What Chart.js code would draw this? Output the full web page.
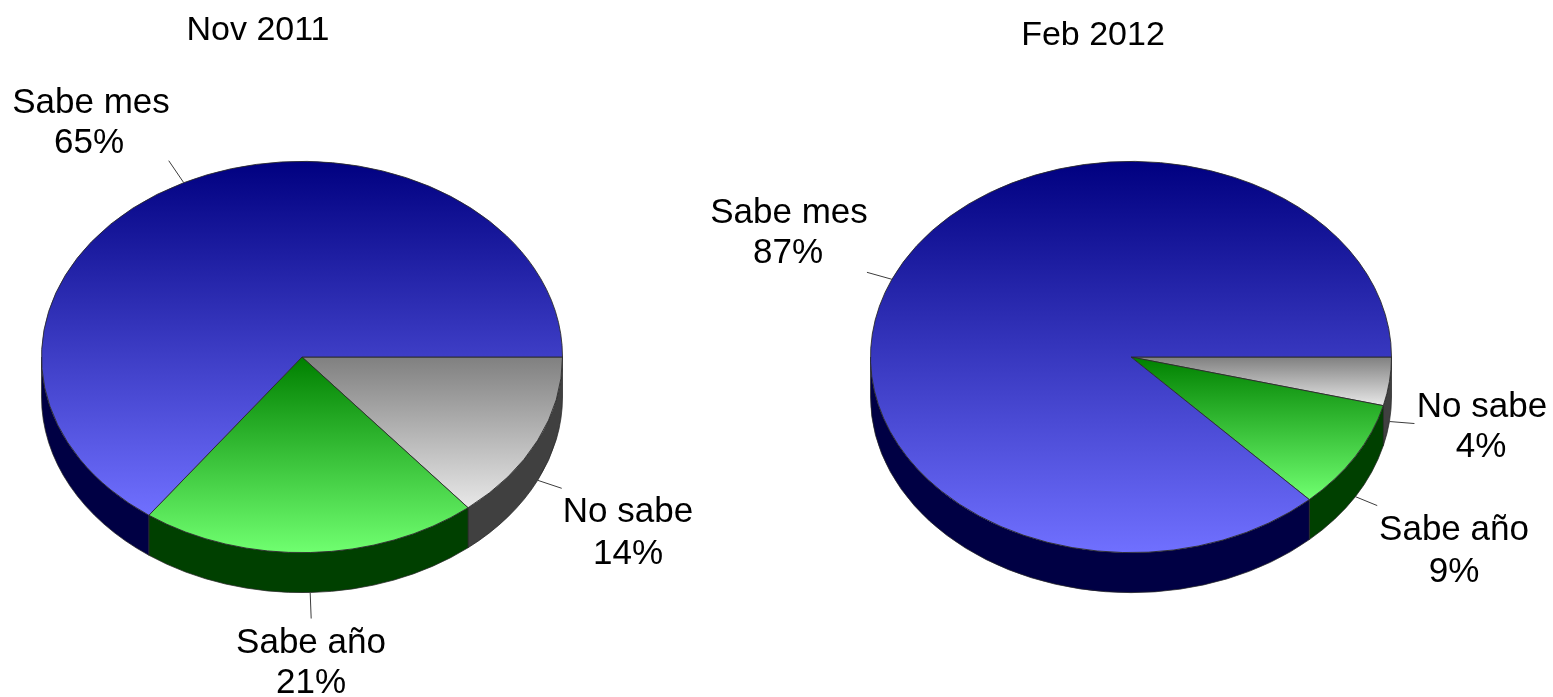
<!DOCTYPE html>
<html>
<head>
<meta charset="utf-8">
<title>Sabe mes / Sabe año / No sabe</title>
<script src="https://cdn.jsdelivr.net/npm/chart.js@4"></script>
<style>
    html, body { margin: 0; padding: 0; background: #ffffff; overflow: hidden; }
    canvas { position: absolute; top: 0; }
    #chartNov { left: 0; }
    #chartFeb { left: 700px; }
</style>
</head>
<body>
<canvas id="chartNov" width="700" height="697"></canvas>
<canvas id="chartFeb" width="853" height="697"></canvas>
<script>
// Daten
const categories = ['No sabe', 'Sabe año', 'Sabe mes'];
const nov2011Values = [14, 21, 65];
const feb2012Values = [4, 9, 87];
const chartTitles = ['Nov 2011', 'Feb 2012'];

// Farben pro Segment
const topColors = ['#808080', '#008000', '#000080'];
const bottomColors = ['#e8e8e8', '#70ff70', '#7070ff'];
const sideColors = ['#404040', '#004000', '#000044'];

// 3D-Look: Ellipse statt Kreis, plus Tiefe nach unten
const squash = 0.751;
const depth = 40;
const radius = 261;
const centerY = 357;
const fontFamily = '"Liberation Sans", Arial, sans-serif';

// Gradient über die Höhe des jeweiligen Segments
function sliceGradient(ctx, values, index) {
    const chart = ctx.chart;
    const area = chart.chartArea;
    if (!area) return topColors[index];
    const total = values.reduce((a, b) => a + b, 0);
    const before = values.slice(0, index).reduce((a, b) => a + b, 0);
    const a0 = before / total * Math.PI * 2;
    const a1 = (before + values[index]) / total * Math.PI * 2;
    let ys = [0, Math.sin(a0), Math.sin(a1)];
    if (a0 < Math.PI / 2 && a1 > Math.PI / 2) ys.push(1);
    if (a0 < Math.PI * 1.5 && a1 > Math.PI * 1.5) ys.push(-1);
    const cy = (area.top + area.bottom) / 2;
    const g = chart.ctx.createLinearGradient(0, cy + Math.min(...ys) * radius, 0, cy + Math.max(...ys) * radius);
    g.addColorStop(0, topColors[index]);
    g.addColorStop(1, bottomColors[index]);
    return g;
}

const pie3d = {
    id: 'pie3d',
    beforeDatasetsDraw(chart) {
        const ctx = chart.ctx;
        const arcs = chart.getDatasetMeta(0).data;
        // sichtbare Seitenwand (nur vordere Hälfte)
        arcs.forEach((arc, i) => {
            const from = Math.max(arc.startAngle, 0);
            const to = Math.min(arc.endAngle, Math.PI);
            if (from >= to) return;
            const r = arc.outerRadius;
            ctx.beginPath();
            ctx.ellipse(arc.x, arc.y, r, r * squash, 0, from, to);
            ctx.ellipse(arc.x, arc.y + depth, r, r * squash, 0, to, from, true);
            ctx.closePath();
            ctx.fillStyle = sideColors[i];
            ctx.fill();
            ctx.lineWidth = 0.75;
            ctx.strokeStyle = '#2a2a2a';
            ctx.stroke();
        });
        // Deckfläche stauchen
        ctx.save();
        ctx.translate(0, centerY);
        ctx.scale(1, squash);
        ctx.translate(0, -centerY);
    },
    afterDatasetsDraw(chart, args, opts) {
        const ctx = chart.ctx;
        ctx.restore();

        const arcs = chart.getDatasetMeta(0).data;
        const values = chart.data.datasets[0].data;

        // Führungslinien von der Segmentmitte aus
        arcs.forEach((arc, i) => {
            const mid = (arc.startAngle + arc.endAngle) / 2;
            const r = arc.outerRadius;
            const x = arc.x + Math.cos(mid) * r;
            let y = arc.y + Math.sin(mid) * r * squash;
            if (Math.sin(mid) > 0) y += depth;
            ctx.beginPath();
            ctx.moveTo(x, y);
            ctx.lineTo(x + opts.leaders[i][0], y + opts.leaders[i][1]);
            ctx.lineWidth = 1;
            ctx.strokeStyle = '#3c3c3c';
            ctx.stroke();
        });

        // Beschriftungen
        ctx.fillStyle = '#000000';
        ctx.textAlign = 'center';
        ctx.textBaseline = 'alphabetic';
        ctx.font = '35px ' + fontFamily;
        chart.data.labels.forEach((label, i) => {
            const pos = opts.labels[i];
            ctx.fillText(label, pos[0], pos[1]);
            ctx.fillText(values[i] + '%', pos[2], pos[3]);
        });
        ctx.font = '34px ' + fontFamily;
        ctx.fillText(opts.title, opts.titlePos[0], opts.titlePos[1]);
    }
};

function makeChart(canvasId, values, padding, pluginOptions) {
    return new Chart(document.getElementById(canvasId), {
        type: 'pie',
        data: {
            labels: categories,
            datasets: [{
                data: values,
                backgroundColor: ctx => sliceGradient(ctx, values, ctx.dataIndex),
                borderColor: '#2a2a2a',
                borderWidth: 1
            }]
        },
        options: {
            responsive: false,
            animation: false,
            rotation: 90,
            layout: { padding: padding },
            plugins: {
                legend: { display: false },
                tooltip: { enabled: false },
                title: { display: false },
                pie3d: pluginOptions
            }
        },
        plugins: [pie3d]
    });
}

makeChart('chartNov', nov2011Values, { left: 41, right: 137, top: 96, bottom: 79 }, {
    title: chartTitles[0],
    titlePos: [258, 40],
    leaders: [[24, 8], [1, 26], [-15, -22]],
    labels: [[628, 522, 628, 564], [311, 653, 311, 693], [91, 113, 89, 153]]
});

makeChart('chartFeb', feb2012Values, { left: 170, right: 161, top: 96, bottom: 79 }, {
    title: chartTitles[1],
    titlePos: [393, 45],
    leaders: [[25, 2], [22, 9], [-25, -7]],
    labels: [[782, 417, 781, 457], [754, 540, 754, 582], [89, 223, 88, 263]]
});
</script>
</body>
</html>
